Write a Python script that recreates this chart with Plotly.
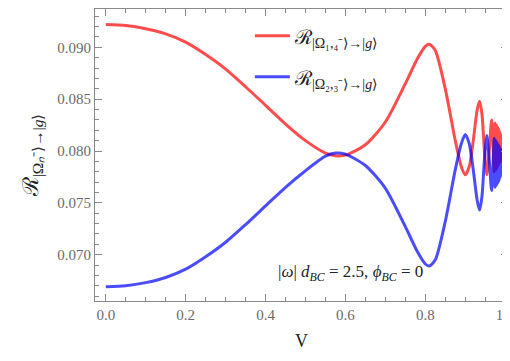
import plotly.graph_objects as go

# ---- data ----
v_red = [0.00, 0.05, 0.10, 0.15, 0.20, 0.25, 0.30, 0.35, 0.40, 0.45, 0.50, 0.55, 0.575, 0.60,
         0.65, 0.70, 0.75, 0.78, 0.80, 0.81, 0.825, 0.85, 0.875, 0.89, 0.90, 0.91, 0.92, 0.93,
         0.936, 0.942, 0.948, 0.954, 0.960, 0.966, 0.9725, 0.9745, 0.9765, 0.978, 0.9795,
         0.981, 0.9825, 0.984, 0.985, 0.986, 0.987, 0.988, 0.989, 0.990, 0.991, 0.992, 0.993,
         0.994, 0.995, 0.996, 0.997, 0.998, 0.999, 1.0]
r_red = [0.0922, 0.0921, 0.0918, 0.0913, 0.0905, 0.0893, 0.0879, 0.0862, 0.0844, 0.0826, 0.0810,
         0.0798, 0.07955, 0.0796, 0.0806, 0.0828, 0.0865, 0.0889, 0.0901, 0.0903, 0.0897, 0.0860,
         0.0810, 0.0785, 0.0777, 0.0785, 0.0810, 0.0840, 0.0848, 0.0835, 0.0800, 0.0777, 0.0800,
         0.0830, 0.0780, 0.0827, 0.0782, 0.0825, 0.0784, 0.0823, 0.0786, 0.0821, 0.0788, 0.0819,
         0.0789, 0.0817, 0.0790, 0.0815, 0.0791, 0.0812, 0.0792, 0.0810, 0.0793, 0.0807, 0.0794,
         0.0804, 0.0796, 0.0800]

v_blue = v_red
r_blue = [0.0669, 0.0670, 0.0673, 0.0678, 0.0686, 0.0698, 0.0712, 0.0729, 0.0747, 0.0765, 0.0781,
          0.0795, 0.0798, 0.0797, 0.0786, 0.0764, 0.0727, 0.0703, 0.0691, 0.0689, 0.0695, 0.0732,
          0.0782, 0.0807, 0.0816, 0.0807, 0.0782, 0.0752, 0.0743, 0.0757, 0.0792, 0.0815, 0.0792,
          0.0762, 0.0812, 0.0765, 0.0810, 0.0767, 0.0808, 0.0769, 0.0806, 0.0771, 0.0805, 0.0773,
          0.0803, 0.0775, 0.0802, 0.0777, 0.0801, 0.0779, 0.0800, 0.0781, 0.0799, 0.0784, 0.0798,
          0.0787, 0.0796, 0.0792]

x_ticks = [0.0, 0.2, 0.4, 0.6, 0.8, 1.0]
x_ticklabels = ["0.0", "0.2", "0.4", "0.6", "0.8", "1.0"]
y_ticks = [0.070, 0.075, 0.080, 0.085, 0.090]
y_ticklabels = ["0.070", "0.075", "0.080", "0.085", "0.090"]

name_red = "ℛ<sub>|Ω₁,₄⁻⟩→|<i>g</i>⟩</sub>"
name_blue = "ℛ<sub>|Ω₂,₃⁻⟩→|<i>g</i>⟩</sub>"
y_title = "ℛ<sub>|Ω<i>ₙ</i>⁻⟩→|<i>g</i>⟩</sub>"
note = "|<i>ω</i>| <i>d</i><sub><i>BC</i></sub> = 2.5, <i>ϕ</i><sub><i>BC</i></sub> = 0"

SERIF = "Liberation Serif"

fig = go.Figure()
fig.add_trace(go.Scatter(x=v_red, y=r_red, mode="lines", name=name_red, legendgroup="a",
                         line=dict(color="rgba(255,0,0,0.7)", width=3, shape="spline", smoothing=0.7)))
fig.add_trace(go.Scatter(x=v_blue, y=r_blue, mode="lines", name=name_blue, legendgroup="b",
                         line=dict(color="rgba(0,0,255,0.7)", width=3, shape="spline", smoothing=0.7)))

axis_common = dict(
    showgrid=False, zeroline=False, showline=True, linecolor="#8a8a8a", linewidth=1,
    mirror="ticks", ticks="inside", tickcolor="#8a8a8a", ticklen=7,
    tickfont=dict(family=SERIF, size=15, color="#6a6a6a"),
)

fig.update_xaxes(range=[-0.027, 1.007], tickvals=x_ticks, ticktext=x_ticklabels,
                 ticklabeloverflow="allow",
                 minor=dict(dtick=0.05, tick0=0, ticks="inside", ticklen=4, tickcolor="#8a8a8a"),
                 title=dict(text="V", font=dict(family=SERIF, size=18, color="#222222"), standoff=12),
                 **axis_common)
fig.update_yaxes(range=[0.06553, 0.0937], tickvals=y_ticks, ticktext=y_ticklabels,
                 minor=dict(dtick=0.001, tick0=0.07, ticks="inside", ticklen=4, tickcolor="#8a8a8a"),
                 title=dict(text=y_title, font=dict(family=SERIF, size=22, color="#222222"), standoff=12),
                 **axis_common)

fig.add_annotation(x=0.427, y=0.0682, xref="x", yref="y", text=note, showarrow=False,
                   xanchor="left", yanchor="middle",
                   font=dict(family=SERIF, size=17, color="#222222"))

fig.update_layout(
    width=510, height=361,
    margin=dict(l=87, r=10, t=1, b=68),
    paper_bgcolor="white", plot_bgcolor="white",
    font=dict(family=SERIF),
    legend=dict(x=0.375, y=0.975, xanchor="left", yanchor="top", bgcolor="rgba(0,0,0,0)",
                font=dict(family=SERIF, size=20, color="#222222"), tracegroupgap=12,
                traceorder="grouped", itemwidth=35),
)

fig.write_html("out.html")
